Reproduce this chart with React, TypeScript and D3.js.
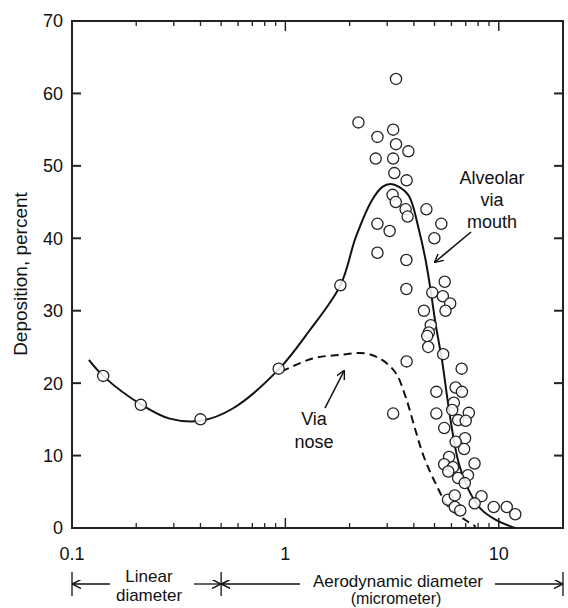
import React from 'react'
import * as d3 from 'd3'

// measured points: particle diameter (um) and deposition (%)
const pointDiameter = [
  0.14, 0.21, 0.40, 0.93, 1.81,
  3.30, 2.20, 2.70, 3.20, 3.30, 3.77, 2.65, 3.20, 3.24, 3.70,
  3.18, 3.29, 3.66, 3.74, 4.58, 2.70, 3.08, 5.38, 4.99, 2.70,
  3.69, 3.69, 5.58, 4.88, 5.47, 5.92, 5.63, 4.46, 4.80, 4.70,
  4.62, 4.67, 5.49, 3.70, 6.70, 6.28, 6.72, 5.10, 6.16, 6.05,
  5.10, 3.20, 7.24, 6.45, 7.00, 5.55, 6.95, 6.28, 6.88, 5.85,
  5.55, 7.70, 6.10, 5.80, 7.17, 6.45, 6.93, 8.30, 5.78, 6.22,
  7.71, 6.22, 6.60, 9.47, 10.9, 11.95,
]
const pointDeposition = [
  21.0, 17.0, 15.0, 22.0, 33.5,
  62.0, 56.0, 54.0, 55.0, 53.0, 52.0, 51.0, 51.0, 49.0, 48.0,
  46.0, 45.0, 44.0, 43.0, 44.0, 42.0, 41.0, 42.0, 40.0, 38.0,
  37.0, 33.0, 34.0, 32.5, 32.0, 31.0, 30.0, 30.0, 28.0, 27.0,
  26.5, 25.0, 24.0, 23.0, 22.0, 19.4, 18.8, 18.8, 17.3, 16.3,
  15.8, 15.8, 15.9, 14.9, 14.8, 13.8, 12.4, 11.9, 10.9, 9.8,
  8.8, 8.9, 8.4, 7.8, 7.3, 6.9, 6.2, 4.4, 3.9, 4.5,
  3.4, 2.9, 2.4, 2.9, 2.9, 1.9,
]

// alveolar deposition, mouth breathing (solid)
const mouthDiameter = [
  0.12, 0.141, 0.212, 0.287, 0.40, 0.567, 0.937, 1.3, 1.81, 2.14,
  2.55, 2.85, 3.11, 3.41, 3.80, 4.23, 4.54, 4.79, 5.05, 5.43,
  5.73, 6.05, 6.50, 7.24, 8.32, 9.6, 11.9,
]
const mouthDeposition = [
  23.2, 20.9, 17.0, 15.1, 14.8, 16.5, 22.0, 27.3, 33.5, 40.2,
  45.3, 47.1, 47.5, 47.1, 45.8, 41.1, 37.0, 32.9, 28.3, 23.0,
  18.1, 13.5, 8.9, 5.2, 2.5, 1.2, 0,
]

// alveolar deposition, nose breathing (dashed)
const noseDiameter = [0.96, 1.34, 1.79, 2.38, 2.84, 3.29, 3.66, 4.07, 4.46, 5.05, 5.83, 6.97, 7.8]
const noseDeposition = [21.6, 23.4, 23.9, 24.1, 23.2, 21.4, 18.1, 13.5, 9.8, 6.2, 2.9, 1.1, 0.2]

const xMajor = [0.1, 1, 10]
const xTickLabels = ['0.1', '1', '10']
const yTicks = [0, 10, 20, 30, 40, 50, 60, 70]

const font = '"Liberation Sans", Arial, sans-serif'

export default function App() {
  const left = 72, right = 563, top = 21, bottom = 528

  const x = d3.scaleLog().domain([0.1, 20]).range([left, right])
  const y = d3.scaleLinear().domain([0, 70]).range([bottom, top])

  const xMinor: number[] = []
  ;[0.1, 1, 10].forEach(d => {
    for (let k = 2; k <= 9; k++) if (k * d < 20) xMinor.push(k * d)
  })

  const line = d3.line<[number, number]>()
    .x(d => x(d[0]))
    .y(d => y(d[1]))
    .curve(d3.curveCatmullRom.alpha(0.5))

  const mouthPath = line(mouthDiameter.map((d, i) => [d, mouthDeposition[i]] as [number, number]))
  const nosePath = line(noseDiameter.map((d, i) => [d, noseDeposition[i]] as [number, number]))

  const arrowY = 584
  const split = x(0.5)

  return (
    <svg width={568} height={608} style={{ position: 'absolute', left: 0, top: 0, background: '#fff' }}
      fontFamily={font}>
      <defs>
        <marker id="head" viewBox="0 0 10 10" refX="9" refY="5" markerWidth="9" markerHeight="9"
          orient="auto-start-reverse" markerUnits="userSpaceOnUse">
          <path d="M0,0 L10,5 L0,10" fill="none" stroke="#111" strokeWidth="1.6" />
        </marker>
      </defs>

      {/* frame */}
      <rect x={left} y={top} width={right - left} height={bottom - top} fill="none" stroke="#222" strokeWidth={2} />

      {/* y ticks, left and right */}
      {yTicks.map(t => (
        <g key={'y' + t}>
          {t > 0 && t < 70 && <line x1={left} x2={left + 9} y1={y(t)} y2={y(t)} stroke="#222" strokeWidth={2} />}
          {t > 0 && t < 70 && <line x1={right} x2={right - 9} y1={y(t)} y2={y(t)} stroke="#222" strokeWidth={2} />}
          <text x={left - 9} y={y(t)} dy="0.36em" textAnchor="end" fontSize={18} fill="#111">{t}</text>
        </g>
      ))}

      {/* x ticks, bottom and top */}
      {xMinor.map(t => (
        <g key={'xm' + t}>
          <line x1={x(t)} x2={x(t)} y1={bottom} y2={bottom - 5} stroke="#222" strokeWidth={1.3} />
          <line x1={x(t)} x2={x(t)} y1={top} y2={top + 5} stroke="#222" strokeWidth={1.3} />
        </g>
      ))}
      {xMajor.map((t, i) => (
        <g key={'xM' + t}>
          <line x1={x(t)} x2={x(t)} y1={bottom} y2={bottom - 10} stroke="#222" strokeWidth={1.5} />
          <line x1={x(t)} x2={x(t)} y1={top} y2={top + 10} stroke="#222" strokeWidth={1.5} />
          <text x={x(t)} y={560} textAnchor="middle" fontSize={18} fill="#111">{xTickLabels[i]}</text>
        </g>
      ))}

      {/* curves */}
      <path d={mouthPath || ''} fill="none" stroke="#111" strokeWidth={2} />
      <path d={nosePath || ''} fill="none" stroke="#111" strokeWidth={2} strokeDasharray="8,5" />

      {/* data points */}
      {pointDiameter.map((d, i) => (
        <circle key={'p' + i} cx={x(d)} cy={y(pointDeposition[i])} r={5.6}
          fill="#fff" fillOpacity={0.85} stroke="#222" strokeWidth={1.3} />
      ))}

      {/* annotations */}
      <text textAnchor="middle" fontSize={18} fill="#111">
        <tspan x={492} y={184}>Alveolar</tspan>
        <tspan x={492} y={206}>via</tspan>
        <tspan x={492} y={228}>mouth</tspan>
      </text>
      <line x1={471} y1={232} x2={435} y2={262} stroke="#111" strokeWidth={1.6} markerEnd="url(#head)" />

      <text textAnchor="middle" fontSize={18} fill="#111">
        <tspan x={314} y={425}>Via</tspan>
        <tspan x={314} y={448}>nose</tspan>
      </text>
      <line x1={325} y1={408} x2={344} y2={371} stroke="#111" strokeWidth={1.6} markerEnd="url(#head)" />

      <text transform={`translate(27,274) rotate(-90)`} textAnchor="middle" fontSize={19} fill="#111">
        Deposition, percent
      </text>

      {/* size range brackets below the axis */}
      <line x1={left} x2={left} y1={572} y2={596} stroke="#111" strokeWidth={1.3} />
      <line x1={split} x2={split} y1={572} y2={596} stroke="#111" strokeWidth={1.3} />
      <line x1={right} x2={right} y1={572} y2={596} stroke="#111" strokeWidth={1.3} />
      <line x1={110} x2={left + 1} y1={arrowY} y2={arrowY} stroke="#111" strokeWidth={1.3} markerEnd="url(#head)" />
      <line x1={194} x2={split - 1} y1={arrowY} y2={arrowY} stroke="#111" strokeWidth={1.3} markerEnd="url(#head)" />
      <line x1={300} x2={split + 1} y1={arrowY} y2={arrowY} stroke="#111" strokeWidth={1.3} markerEnd="url(#head)" />
      <line x1={495} x2={right - 1} y1={arrowY} y2={arrowY} stroke="#111" strokeWidth={1.3} markerEnd="url(#head)" />

      <text textAnchor="middle" fontSize={17} fill="#111">
        <tspan x={149} y={582}>Linear</tspan>
        <tspan x={149} y={601}>diameter</tspan>
      </text>
      <text textAnchor="middle" fontSize={17} fill="#111">
        <tspan x={398} y={587}>Aerodynamic diameter</tspan>
        <tspan x={396} y={604} fontSize={16}>(micrometer)</tspan>
      </text>
    </svg>
  )
}
